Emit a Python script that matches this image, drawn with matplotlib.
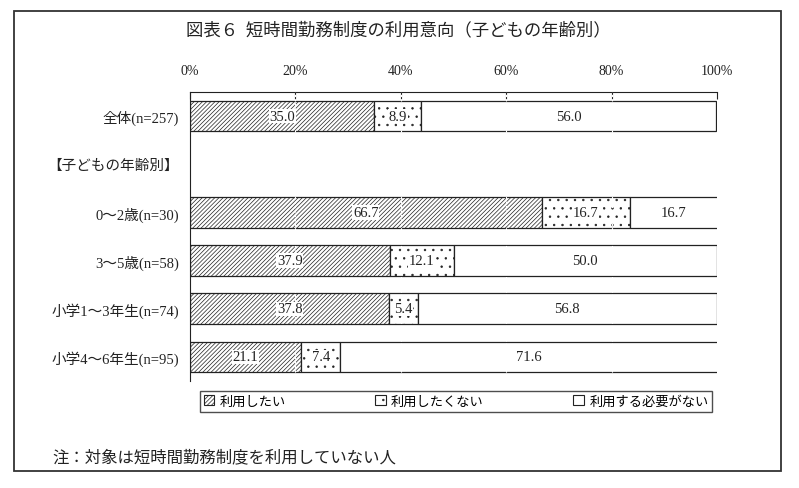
import matplotlib
matplotlib.use('Agg')
from matplotlib import pyplot as plt
from matplotlib.patches import Patch, Rectangle
import numpy as np

plt.rcParams['font.family'] = ['Liberation Serif', 'Noto Sans CJK JP']
plt.rcParams['hatch.linewidth'] = 0.5

categories = ['全体(n=257)', '【子どもの年齢別】', '0～2歳(n=30)', '3～5歳(n=58)',
              '小学1～3年生(n=74)', '小学4～6年生(n=95)']
want = [35.0, None, 66.7, 37.9, 37.8, 21.1]
not_want = [8.9, None, 16.7, 12.1, 5.4, 7.4]
no_need = [56.0, None, 16.7, 50.0, 56.8, 71.6]
series_names = ['利用したい', '利用したくない', '利用する必要がない']
hatches = ['////////', '..', '']
xticks = [0, 20, 40, 60, 80, 100]

W, H = 799, 489
fig = plt.figure(figsize=(W / 100, H / 100), dpi=100)
ax = fig.add_axes([190 / W, 1 - 382 / H, (717 - 190) / W, (382 - 93) / H])

y = np.arange(len(categories))
for i in range(len(categories)):
    if want[i] is None:
        continue
    left = 0
    for j, v in enumerate([want[i], not_want[i], no_need[i]]):
        ax.barh(y[i], v, left=left, height=0.64, color='white', edgecolor='#222222',
                hatch=hatches[j], linewidth=0.9, zorder=2)
        ax.text(left + v / 2, y[i], '%.1f' % v, ha='center', va='center', fontsize=10.5,
                color='#222222', zorder=4,
                bbox=dict(facecolor='white', edgecolor='none', pad=0.5))
        left += v

for gx in [20, 40, 60, 80]:
    ax.axvline(gx, color='white', linestyle=(0, (2, 2)), linewidth=0.8, zorder=3)

ax.set_xlim(0, 100)
ax.set_ylim(len(categories) - 0.5, -0.5)
ax.set_yticks(y)
ax.set_yticklabels(categories, fontsize=10.5, color='#222222')
ax.tick_params(axis='y', length=0, pad=8)
ax.xaxis.tick_top()
ax.set_xticks(xticks)
ax.set_xticklabels(['%d%%' % t for t in xticks], fontsize=10, color='#222222')
ax.tick_params(axis='x', direction='in', length=5, pad=11, color='#222222')
ax.spines['right'].set_visible(False)
ax.spines['bottom'].set_visible(False)
ax.spines['top'].set_color('#222222')
ax.spines['left'].set_color('#222222')

handles = [Patch(facecolor='white', edgecolor='#222222', hatch=h, linewidth=0.8)
           for h in hatches]
leg = fig.legend(handles, series_names, ncol=3, loc='center',
                 bbox_to_anchor=(193 / W, 1 - 415 / H, (719 - 193) / W, 25 / H),
                 mode='expand', fancybox=False, edgecolor='#222222',
                 handlelength=0.8, handleheight=0.8, handletextpad=0.4,
                 prop={'family': ['Noto Sans CJK JP'], 'size': 9.5}, borderpad=0.3)
leg.get_frame().set_linewidth(1.0)

fig.text(398 / W, 1 - 30 / H, '図表６  短時間勤務制度の利用意向（子どもの年齢別）',
         ha='center', va='center', fontsize=12.5, family=['Noto Sans CJK JP'],
         color='#222222')
fig.text(52 / W, 1 - 458 / H, '注：対象は短時間勤務制度を利用していない人',
         ha='left', va='center', fontsize=11.8, family=['Noto Sans CJK JP'],
         color='#222222')

fig.patches.append(Rectangle((14 / W, 1 - 472 / H), (781 - 14) / W, (472 - 12) / H,
                             transform=fig.transFigure, fill=False,
                             edgecolor='#333333', linewidth=1.3))

plt.savefig('out.png', dpi=100)
